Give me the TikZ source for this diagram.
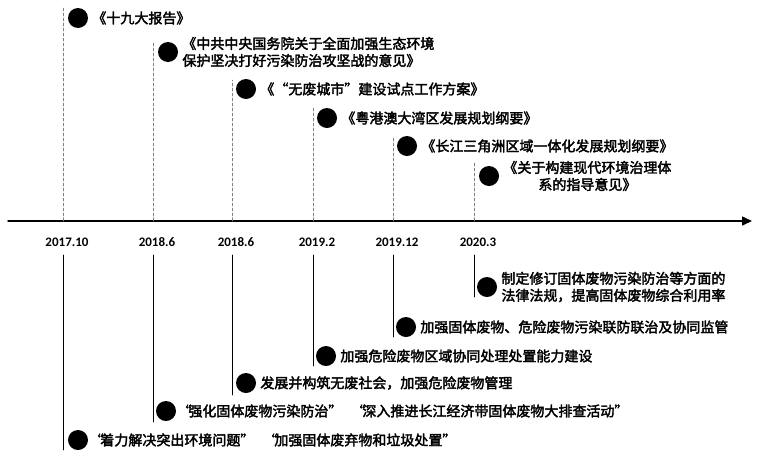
\documentclass[tikz,border=0pt]{standalone}
\usepackage{fontspec}
\setmainfont{Noto Sans CJK SC}[AutoFakeBold=2.5]
\newfontfamily\datefont{Carlito}
\usetikzlibrary{positioning,arrows.meta}
\tikzset{
	dot/.style={circle,fill=black,inner sep=0pt,minimum size=20pt},
	item/.style={right=4pt of #1,inner sep=0pt,font=\fontsize{14}{17}\selectfont\bfseries,align=left},
	upline/.style={densely dashed,gray,line width=0.5pt},
	lowline/.style={black,line width=0.9pt},
	datelbl/.style={font=\datefont\bfseries\fontsize{13}{15}\selectfont,inner sep=0pt}
}
\newcommand{\qgap}{\hspace{-3pt}}
\begin{document}
\begin{tikzpicture}[x=1pt,y=-1pt,>={Triangle[length=10pt,width=9pt]}, line join=round, line cap=round]
	\useasboundingbox (0,0) rectangle (759,453);
	% time axis
	\coordinate (a0) at (8,221); \coordinate (a1) at (752,221);
	\draw[->,line width=1.5pt] (a0)--(a1);
	% ticks and dates
	\foreach \n/\x/\t in {1/63/2017.10,2/153/2018.6,3/232/2018.6,4/313/2019.2,5/393/2019.12,6/474/2020.3}{
		\coordinate (t\n) at (\x,221);
		\coordinate (b\n) at (\x,255);
		\draw[line width=0.6pt] (\x,218)--(t\n);
		\node[datelbl] (date\n) at (\x+4,242) {\t};
	}
	% upper part: documents
	\coordinate (u1) at (63,8);  \coordinate (u2) at (153,42); \coordinate (u3) at (232,80);
	\coordinate (u4) at (313,108); \coordinate (u5) at (393,137); \coordinate (u6) at (474,163);
	\foreach \n in {1,...,6} \draw[upline] (t\n)--(u\n);
	\node[dot] (d1) at (78,18) {};
	\node[item=d1] (p1) {《十九大报告》};
	\node[dot] (d2) at (168,52) {};
	\node[item=d2] (p2) {《中共中央国务院关于全面加强生态环境\\保护坚决打好污染防治攻坚战的意见》};
	\node[dot] (d3) at (246,89) {};
	\node[item=d3] (p3) {《“无废城市”建设试点工作方案》};
	\node[dot] (d4) at (327,118) {};
	\node[item=d4] (p4) {《粤港澳大湾区发展规划纲要》};
	\node[dot] (d5) at (407,146) {};
	\node[item=d5] (p5) {《长江三角洲区域一体化发展规划纲要》};
	\node[dot] (d6) at (489,176) {};
	\node[item=d6,align=center] (p6) {《关于构建现代环境治理体\\系的指导意见》};
	% lower part: measures
	\coordinate (l1) at (63,450); \coordinate (l2) at (153,422); \coordinate (l3) at (232,395);
	\coordinate (l4) at (313,366); \coordinate (l5) at (393,337); \coordinate (l6) at (474,297);
	\foreach \n in {1,...,6} \draw[lowline] (b\n)--(l\n);
	\node[dot] (e1) at (78,440) {};
	\node[item=e1] (m1) {\qgap{}“\qgap{}着力解决突出环境问题”\hspace{9pt}“\qgap{}加强固体废弃物和垃圾处置”};
	\node[dot] (e2) at (166,411) {};
	\node[item=e2] (m2) {\qgap{}“\qgap{}强化固体废物污染防治”\hspace{9pt}“\qgap{}深入推进长江经济带固体废物大排查活动”};
	\node[dot] (e3) at (246,383) {};
	\node[item=e3] (m3) {发展并构筑无废社会，加强危险废物管理};
	\node[dot] (e4) at (326,356) {};
	\node[item=e4] (m4) {加强危险废物区域协同处理处置能力建设};
	\node[dot] (e5) at (406,327) {};
	\node[item=e5] (m5) {加强固体废物、危险废物污染联防联治及协同监管};
	\node[dot] (e6) at (487,287) {};
	\node[item=e6] (m6) {制定修订固体废物污染防治等方面的\\法律法规，提高固体废物综合利用率};
\end{tikzpicture}
\end{document}
